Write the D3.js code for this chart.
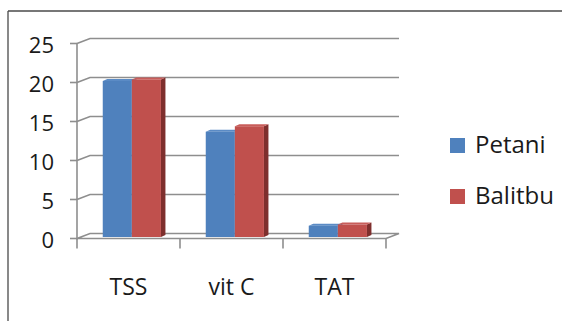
<!DOCTYPE html>
<html>
<head>
<meta charset="utf-8">
<script src="https://cdn.jsdelivr.net/npm/d3@7"></script>
<style>
html,body{margin:0;padding:0;background:#fff;}
svg{display:block;font-family:"Open Sans",sans-serif;}
</style>
</head>
<body>
<svg id="chart" width="562" height="321"></svg>
<script>
const categories = ["TSS", "vit C", "TAT"];
const seriesNames = ["Petani", "Balitbu"];
const petani = [20.0, 13.5, 1.45];
const balitbu = [20.2, 14.2, 1.6];
const yTicks = [0, 5, 10, 15, 20, 25];
const seriesColors = ["#4F81BD", "#C0504D"];
const topColors = ["#5b8bc5", "#c85d5a"];
const sideColors = ["#3b6496", "#7e2f2d"];

const values = [petani, balitbu];
const svg = d3.select("#chart");

// frame
svg.append("line").attr("x1", 8).attr("y1", 11).attr("x2", 562).attr("y2", 11)
  .attr("stroke", "#4a4a4a").attr("stroke-width", 1.3);
svg.append("line").attr("x1", 8).attr("y1", 11).attr("x2", 8).attr("y2", 321)
  .attr("stroke", "#4a4a4a").attr("stroke-width", 1.3);

const x0 = 77, x1 = 386;
const wallDx = 13, wallDy = -5;
const y = d3.scaleLinear().domain([0, 25]).range([238.5, 43.5]);
const xBand = d3.scaleBand().domain(categories).range([x0, x1]).padding(0);
const bw = xBand.bandwidth();
const xInner = d3.scaleBand().domain(seriesNames).range([bw * 0.25, bw * 0.815]).padding(0);

const grid = "#8e8e8e";
const g = svg.append("g");

// gridlines on side wall + back wall
yTicks.forEach(t => {
  const yy = y(t);
  if (t > 0) {
    g.append("path")
      .attr("d", `M${x0},${yy} L${x0 + wallDx},${yy + wallDy} L${x1 + wallDx},${yy + wallDy}`)
      .attr("fill", "none").attr("stroke", grid).attr("stroke-width", 1.6);
  }
  // tick mark
  g.append("line").attr("x1", x0 - 7).attr("x2", x0).attr("y1", yy).attr("y2", yy)
    .attr("stroke", grid).attr("stroke-width", 1.6);
});

// floor
const yb = y(0);
g.append("path")
  .attr("d", `M${x0},${yb} L${x0 + wallDx},${yb + wallDy} L${x1 + wallDx},${yb + wallDy} L${x1},${yb} Z`)
  .attr("fill", "none").attr("stroke", grid).attr("stroke-width", 1.6);

// vertical axis line
g.append("line").attr("x1", x0).attr("x2", x0).attr("y1", y(25)).attr("y2", yb + 1)
  .attr("stroke", grid).attr("stroke-width", 1.6);

// category tick marks
const bounds = categories.map(c => xBand(c)).concat([x1]);
bounds.forEach(bx => {
  g.append("line").attr("x1", bx).attr("x2", bx).attr("y1", yb).attr("y2", yb + 10)
    .attr("stroke", grid).attr("stroke-width", 1.6);
});

// bars (3D)
const bdx = 4.5, bdy = -2;
const offX = 3.5, offY = -1.5;
const barG = svg.append("g");
categories.forEach((c, i) => {
  seriesNames.forEach((s, j) => {
    const v = values[j][i];
    const bx = xBand(c) + xInner(s);
    const w = xInner.bandwidth();
    const top = y(v) + offY;
    const bot = y(0) + offY;
    // side
    barG.append("path")
      .attr("d", `M${bx + w},${top} L${bx + w + bdx},${top + bdy} L${bx + w + bdx},${bot + bdy} L${bx + w},${bot} Z`)
      .attr("fill", sideColors[j]);
    // top
    barG.append("path")
      .attr("d", `M${bx},${top} L${bx + bdx},${top + bdy} L${bx + w + bdx},${top + bdy} L${bx + w},${top} Z`)
      .attr("fill", topColors[j]);
    // front
    barG.append("rect").attr("x", bx).attr("y", top).attr("width", w).attr("height", bot - top)
      .attr("fill", seriesColors[j]);
  });
});

// y labels
svg.append("g").selectAll("text").data(yTicks).join("text")
  .attr("x", 54).attr("y", d => y(d) + 9)
  .attr("text-anchor", "end").attr("font-size", 22).attr("fill", "#1a1a1a")
  .text(d => d);

// category labels
svg.append("g").selectAll("text").data(categories).join("text")
  .attr("x", d => xBand(d) + bw / 2).attr("y", 295)
  .attr("text-anchor", "middle").attr("font-size", 23).attr("fill", "#1a1a1a")
  .text(d => d);

// legend
const leg = svg.append("g");
seriesNames.forEach((s, j) => {
  const ly = 153 + j * 51;
  leg.append("rect").attr("x", 450).attr("y", ly - 15).attr("width", 15).attr("height", 15)
    .attr("fill", seriesColors[j]);
  leg.append("text").attr("x", 475).attr("y", ly).attr("font-size", 24).attr("fill", "#1a1a1a").text(s);
});
</script>
</body>
</html>
